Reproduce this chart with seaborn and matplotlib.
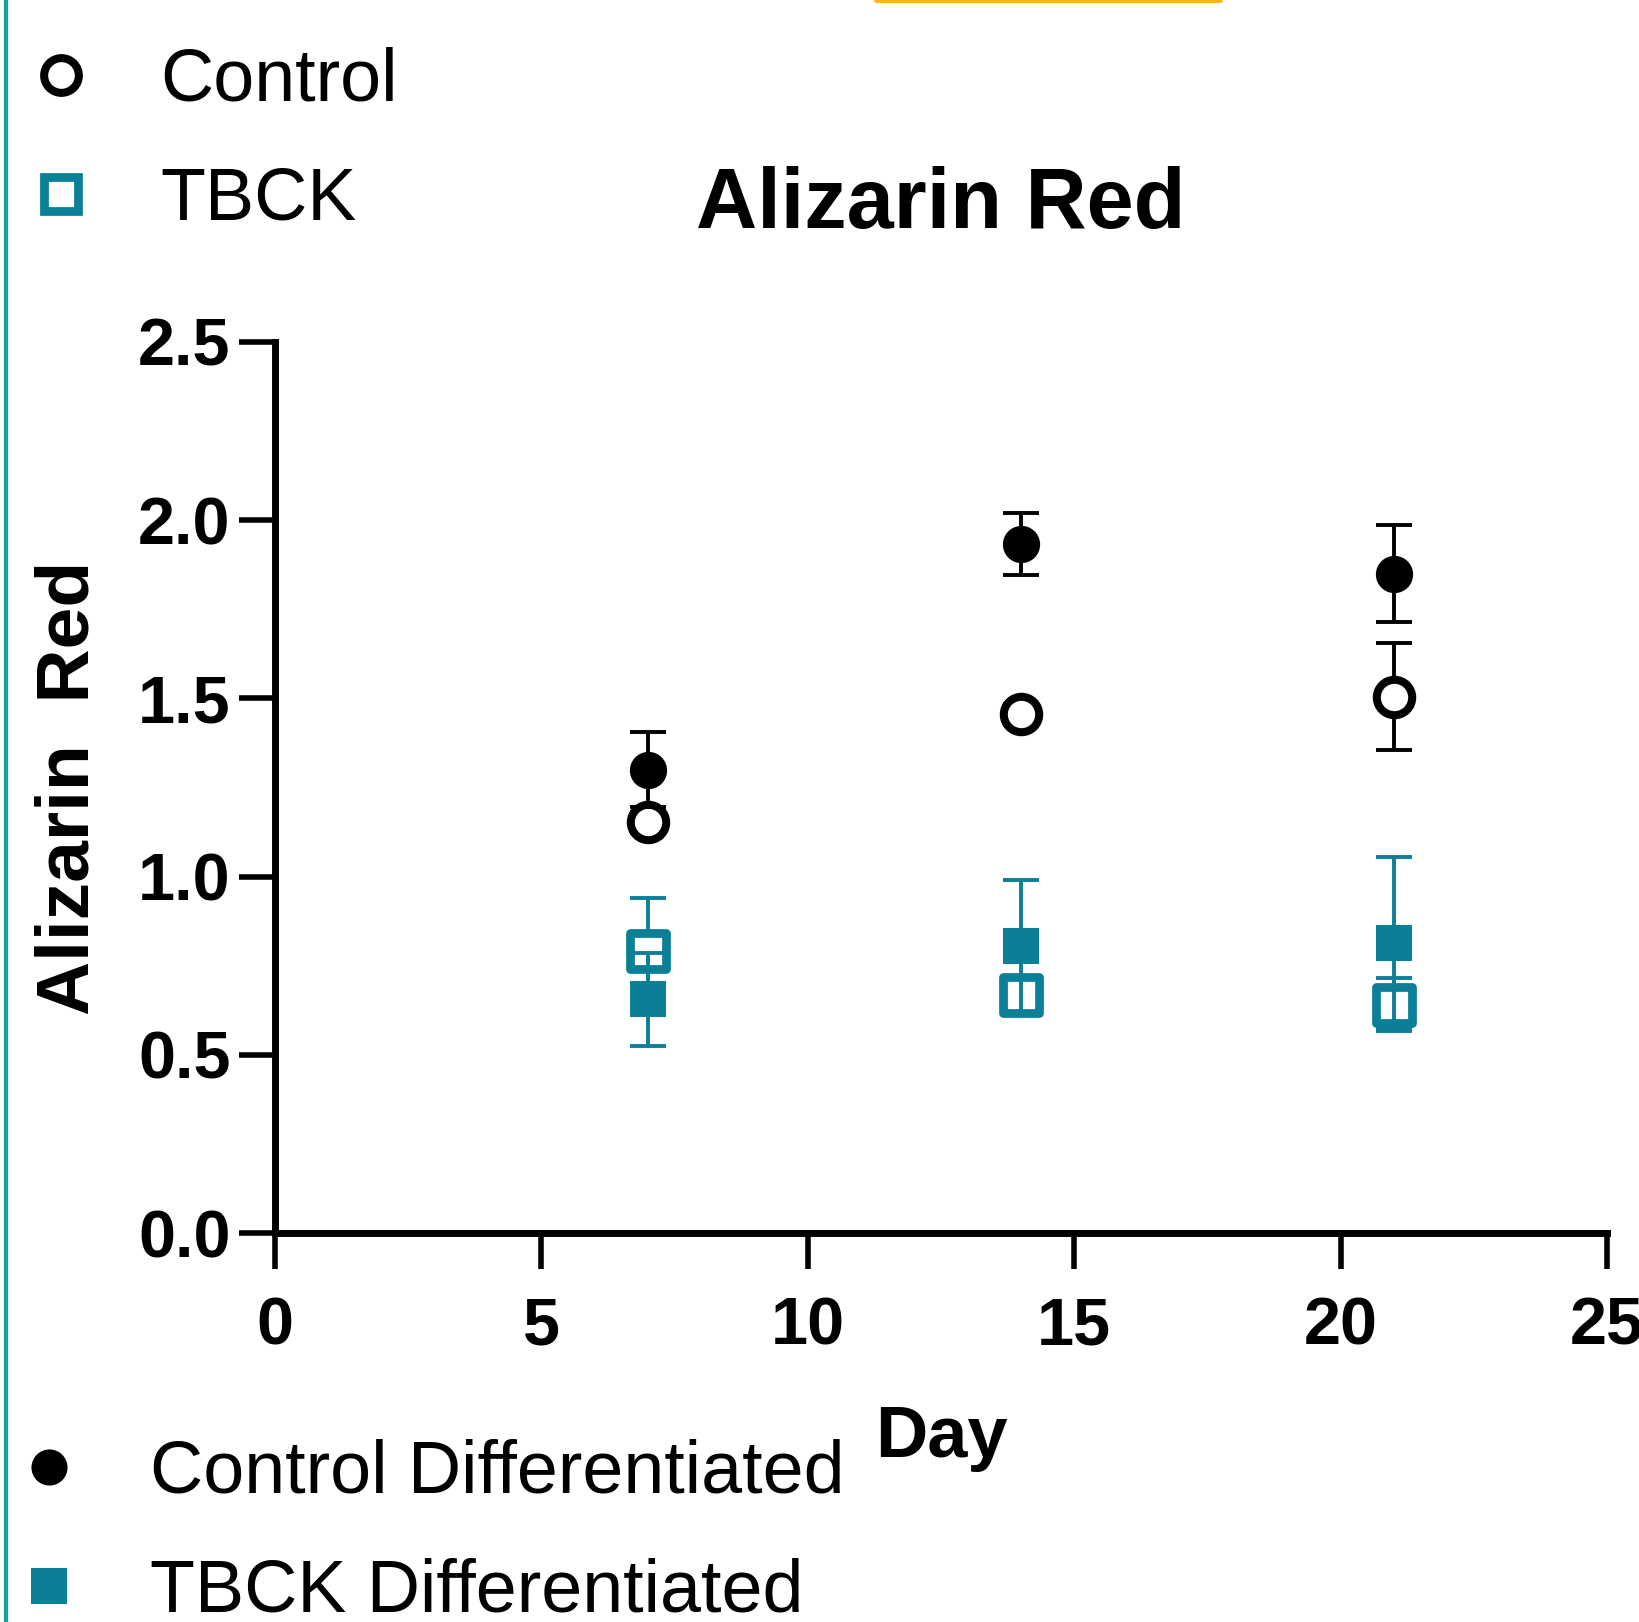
import matplotlib
matplotlib.use("Agg")
import matplotlib.pyplot as plt
from matplotlib.lines import Line2D
from matplotlib.patches import FancyBboxPatch
import seaborn as sns
import pandas as pd

# ---- data ----
days = [7, 14, 21]
control = [1.152, 1.455, 1.505]
control_err = [0.03, 0.03, 0.15]
tbck = [0.790, 0.668, 0.641]
tbck_err = [0.15, 0.05, 0.075]
control_diff = [1.300, 1.932, 1.850]
control_diff_err = [0.105, 0.087, 0.135]
tbck_diff = [0.656, 0.805, 0.815]
tbck_diff_err = [0.13, 0.185, 0.24]

x_ticks = [0, 5, 10, 15, 20, 25]
y_ticks = [0.0, 0.5, 1.0, 1.5, 2.0, 2.5]
y_tick_labels = ["0.0", "0.5", "1.0", "1.5", "2.0", "2.5"]

TEAL = "#0A7F97"
BLACK = "#000000"

sns.set_theme(style="ticks")
plt.rcParams["font.family"] = ["Liberation Sans", "DejaVu Sans"]
plt.rcParams["text.color"] = BLACK
plt.rcParams["axes.labelcolor"] = BLACK

fig = plt.figure(figsize=(16.39, 16.22), dpi=100)
ax = fig.add_axes([0.1678, 0.2398, 0.8127, 0.5494])

series = [
    # values, errors, marker, face, edge, size, lw, errcolor
    (control, control_err, "o", "white", BLACK, 650, 5.8, BLACK),
    (tbck, tbck_err, "s", "white", TEAL, 650, 6.3, TEAL),
    (control_diff, control_diff_err, "o", BLACK, BLACK, 720, 0, BLACK),
    (tbck_diff, tbck_diff_err, "s", TEAL, TEAL, 708, 0, TEAL),
]

z = 2
for vals, errs, mk, face, edge, size, lw, ec in series:
    ax.errorbar(days, vals, yerr=errs, fmt="none", ecolor=ec,
                elinewidth=2.8, capsize=13, capthick=2.8, zorder=z)
    df = pd.DataFrame({"day": days, "val": vals})
    sns.scatterplot(data=df, x="day", y="val", marker=mk, s=size,
                    color=face, edgecolor=edge, linewidth=lw,
                    ax=ax, legend=False, zorder=z + 1)
    z += 2

ax.set_xlim(0, 25)
ax.set_ylim(0, 2.5)
ax.set_xticks(x_ticks)
ax.set_xticklabels([str(t) for t in x_ticks])
ax.set_yticks(y_ticks)
ax.set_yticklabels(y_tick_labels)

for s in ["top", "right"]:
    ax.spines[s].set_visible(False)
for s in ["left", "bottom"]:
    ax.spines[s].set_linewidth(5)
    ax.spines[s].set_color(BLACK)

ax.tick_params(axis="both", length=26, width=4, color=BLACK,
               labelsize=48, labelcolor=BLACK)
ax.tick_params(axis="x", pad=19.5)
ax.tick_params(axis="y", pad=6)
for lab in ax.get_xticklabels() + ax.get_yticklabels():
    lab.set_fontweight("bold")

ax.set_title("Alizarin Red", fontsize=61, fontweight="bold", pad=82, color=BLACK)
ax.set_xlabel("Day", fontsize=52, fontweight="bold", color=BLACK)
ax.xaxis.set_label_coords(0.5, -0.192)
ax.set_ylabel("Alizarin  Red", fontsize=54, fontweight="bold", color=BLACK)
ax.yaxis.set_label_coords(-0.129, 0.5)

# ---- legends ----
h_ctrl = Line2D([], [], ls="none", marker="o", markersize=25, markeredgewidth=5.8,
                markerfacecolor="white", markeredgecolor=BLACK)
h_tbck = Line2D([], [], ls="none", marker="s", markersize=25, markeredgewidth=6.3,
                markerfacecolor="white", markeredgecolor=TEAL)
h_cd = Line2D([], [], ls="none", marker="o", markersize=26,
              markerfacecolor=BLACK, markeredgecolor=BLACK, markeredgewidth=0)
h_td = Line2D([], [], ls="none", marker="s", markersize=26,
              markerfacecolor=TEAL, markeredgecolor=TEAL, markeredgewidth=0)

leg1 = fig.legend(handles=[h_ctrl, h_tbck], labels=["Control", "TBCK"],
                  loc="upper left", bbox_to_anchor=(0.0148, 0.9714),
                  frameon=False, fontsize=53, handlelength=1.0,
                  handletextpad=0.85, labelspacing=0.68,
                  borderpad=0, borderaxespad=0, labelcolor=BLACK)
leg2 = fig.legend(handles=[h_cd, h_td],
                  labels=["Control Differentiated", "TBCK Differentiated"],
                  loc="upper left", bbox_to_anchor=(0.0073, 0.1129),
                  frameon=False, fontsize=53, handlelength=1.0,
                  handletextpad=0.88, labelspacing=0.68,
                  borderpad=0, borderaxespad=0, labelcolor=BLACK)

# ---- decorations ----
fig.add_artist(Line2D([0.0035, 0.0035], [0, 1], transform=fig.transFigure,
                      color="#12A2A0", lw=3))
fig.add_artist(FancyBboxPatch((874 / 1639, 1 - 3 / 1622), 349 / 1639, 6 / 1622,
                              boxstyle="round,pad=0,rounding_size=0.002",
                              transform=fig.transFigure, color="#FFB31A", lw=0))

fig.savefig("out.png", dpi=100)
